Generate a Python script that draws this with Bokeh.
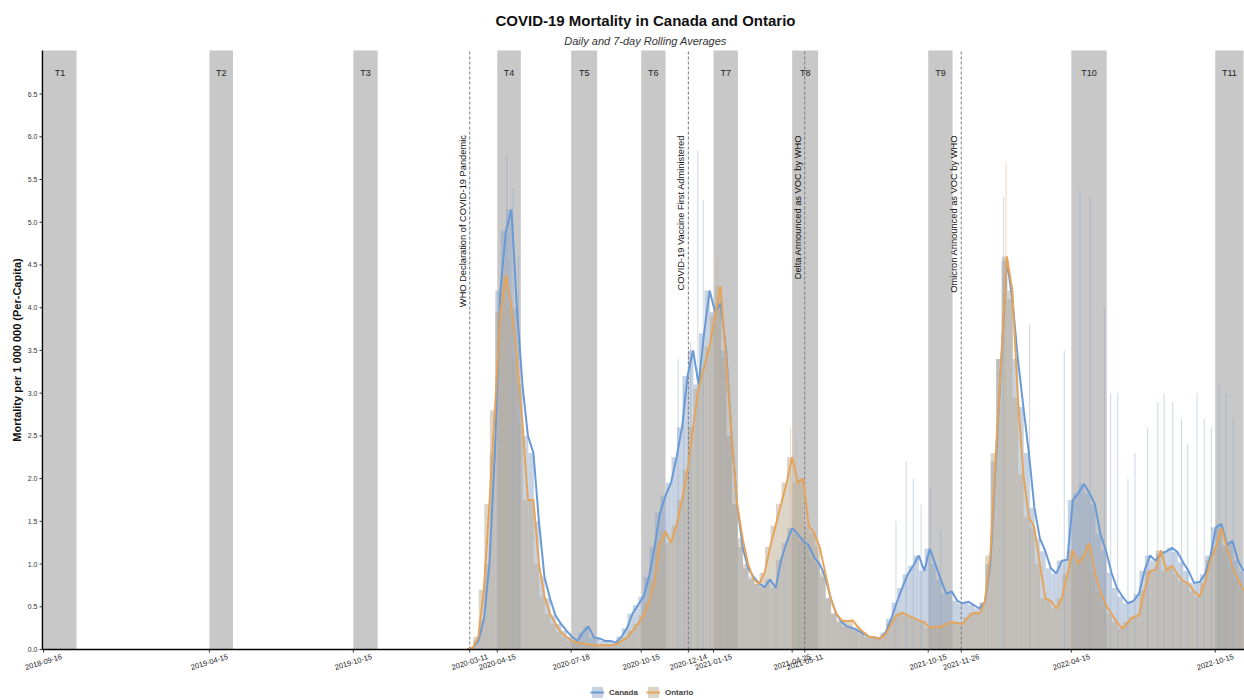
import math
import pandas as pd
from bokeh.plotting import figure
from bokeh.models import ColumnDataSource, Range1d, Legend, LegendItem
from bokeh.embed import file_html
from bokeh.resources import INLINE
from bokeh.core.properties import value

# ---------------- data ----------------
week_start = "2020-03-08"
n_weeks = 142

canada_avg = [
    0.0, 0.02, 0.1, 0.35, 1.0, 2.3, 4.2, 4.9, 5.15, 4.0,
    3.1, 2.5, 2.3, 1.5, 0.85, 0.6, 0.4, 0.3, 0.22, 0.15,
    0.1, 0.2, 0.27, 0.14, 0.13, 0.1, 0.1, 0.08, 0.15, 0.25,
    0.42, 0.52, 0.62, 0.85, 1.2, 1.6, 1.8, 1.95, 2.25, 2.6,
    3.2, 3.5, 3.1, 3.7, 4.2, 3.95, 4.05, 3.5, 2.5, 1.7,
    1.2, 0.95, 0.85, 0.77, 0.73, 0.82, 0.72, 1.05, 1.25, 1.42,
    1.35, 1.27, 1.22, 1.08, 1.0, 0.85, 0.6, 0.42, 0.32, 0.27,
    0.25, 0.22, 0.18, 0.15, 0.14, 0.13, 0.2, 0.36, 0.55, 0.72,
    0.88, 0.98, 1.1, 0.92, 1.18, 1.0, 0.82, 0.65, 0.68, 0.57,
    0.54, 0.56, 0.52, 0.48, 0.55, 1.0, 2.2, 3.4, 4.55, 4.1,
    3.4, 2.84, 2.3, 1.66, 1.3, 1.15, 0.95, 0.89, 1.04, 1.05,
    1.75, 1.83, 1.94, 1.83, 1.7, 1.35, 1.16, 0.9, 0.72, 0.62,
    0.54, 0.57, 0.65, 0.92, 1.1, 1.04, 1.12, 1.15, 1.19, 1.14,
    1.02, 0.92, 0.78, 0.79, 0.88, 1.1, 1.43, 1.47, 1.22, 1.27,
    1.04, 0.92,
]
ontario_avg = [
    0.0, 0.02, 0.15, 0.7, 1.7, 2.8, 3.95, 4.38, 4.0, 3.4,
    2.65, 1.75, 1.75, 1.0, 0.62, 0.42, 0.3, 0.2, 0.15, 0.1,
    0.08, 0.07, 0.06, 0.05, 0.05, 0.05, 0.05, 0.06, 0.1, 0.14,
    0.22, 0.3, 0.4, 0.55, 0.8, 1.25, 1.38, 1.25, 1.45, 1.75,
    2.1, 2.6, 3.05, 3.3, 3.55, 3.9, 4.25, 3.4, 2.5, 1.7,
    1.3, 1.0, 0.82, 0.77, 0.9, 1.2, 1.45, 1.7, 1.95, 2.25,
    1.95, 2.0, 1.45, 1.36, 1.2, 0.9, 0.6, 0.42, 0.34, 0.33,
    0.34, 0.26, 0.2, 0.15, 0.14, 0.13, 0.18, 0.3, 0.4, 0.43,
    0.4, 0.37, 0.34, 0.32, 0.25, 0.27, 0.26, 0.3, 0.32, 0.31,
    0.3, 0.38, 0.43, 0.42, 0.55, 1.1, 2.3, 3.4, 4.6, 4.2,
    2.95, 2.05, 1.55, 1.43, 1.0, 0.6, 0.57, 0.48, 0.6, 0.88,
    1.16, 1.0, 1.1, 1.24, 0.9, 0.68, 0.52, 0.42, 0.32, 0.24,
    0.32, 0.38, 0.4, 0.69, 0.92, 0.93, 1.16, 0.92, 0.98, 0.88,
    0.8, 0.77, 0.68, 0.62, 0.78, 1.05, 1.2, 1.42, 1.2, 0.95,
    0.82, 0.69,
]

canada_spike_dates = ["2020-04-27", "2020-05-05", "2020-05-12", "2020-12-01", "2020-12-08",
                      "2020-12-17", "2020-12-26", "2021-01-02", "2021-09-04", "2021-09-17",
                      "2021-09-26", "2021-10-06", "2021-10-18", "2021-10-31", "2022-01-19",
                      "2022-02-21", "2022-04-06", "2022-04-26", "2022-05-09", "2022-05-27",
                      "2022-06-04", "2022-06-13", "2022-06-26", "2022-07-05", "2022-07-21",
                      "2022-08-03", "2022-08-11", "2022-08-22", "2022-09-02", "2022-09-10",
                      "2022-09-22", "2022-10-01", "2022-10-10", "2022-10-20", "2022-10-29",
                      "2022-11-07"]
canada_spike_vals = [5.78, 5.4, 4.6, 3.4, 3.1, 3.6, 5.84, 5.26, 1.5, 2.2,
                     2.0, 1.7, 1.9, 1.4, 5.3, 3.8, 3.5, 5.4, 5.3, 4.0,
                     3.0, 3.0, 2.0, 2.3, 2.6, 2.9, 3.0, 2.9, 2.7, 2.4,
                     3.0, 2.7, 2.6, 3.1, 3.0, 2.7]
ontario_spike_dates = ["2020-04-26", "2021-01-20", "2021-04-23", "2021-04-30", "2022-01-22"]
ontario_spike_vals = [4.6, 4.6, 2.6, 2.5, 5.7]

band_labels = ["T1", "T2", "T3", "T4", "T5", "T6", "T7", "T8", "T9", "T10", "T11"]
band_starts = ["2018-09-16", "2019-04-15", "2019-10-15", "2020-04-15", "2020-07-18", "2020-10-15",
               "2021-01-15", "2021-04-25", "2021-10-15", "2022-04-15", "2022-10-15"]
band_ends = ["2018-10-28", "2019-05-15", "2019-11-15", "2020-05-15", "2020-08-20", "2020-11-15",
             "2021-02-15", "2021-05-28", "2021-11-15", "2022-05-30", "2022-11-20"]

event_dates = ["2020-03-11", "2020-12-14", "2021-05-11", "2021-11-26"]
event_labels = ["WHO Declaration of COVID-19 Pandemic", "COVID-19 Vaccine First Administered",
                "Delta Announced as VOC by WHO", "Omicron Announced as VOC by WHO"]

tick_dates = ["2018-09-16", "2019-04-15", "2019-10-15", "2020-03-11", "2020-04-15", "2020-07-18",
              "2020-10-15", "2020-12-14", "2021-01-15", "2021-04-25", "2021-05-11", "2021-10-15",
              "2021-11-26", "2022-04-15", "2022-10-15"]
y_ticks = [0.0, 0.5, 1.0, 1.5, 2.0, 2.5, 3.0, 3.5, 4.0, 4.5, 5.0, 5.5, 6.0, 6.5]

title_text = "COVID-19 Mortality in Canada and Ontario"
subtitle_text = "Daily and 7-day Rolling Averages"
y_label_text = "Mortality per 1 000 000 (Per-Capita)"

# ---------------- layout & styling ----------------
FONT = "Liberation Sans"
CAN_LINE = "#6a9ad6"
ONT_LINE = "#e6a45a"
CAN_BAR = "#8fa8c6"
ONT_BAR = "#bba992"
BAND = "#c8c8c8"
DAY_MS = 86400000

W, H = 1244, 700
PANEL_LEFT, PANEL_TOP, PANEL_BOTTOM = 42, 50, 649      # plotting panel in page pixels
X_START = pd.Timestamp("2018-09-14 17:00")              # value at the panel's left edge
X_END = pd.Timestamp("2022-11-21 05:00")                # value at the right edge
DPX = (X_END - X_START) / (W - PANEL_LEFT)              # time per pixel
Y_TOP = 7.01
PX = Y_TOP / (PANEL_BOTTOM - PANEL_TOP)                 # data units per pixel
R0 = X_START - PANEL_LEFT * DPX


def yv(page_y):
    return (PANEL_BOTTOM - page_y) * PX


def xv(page_x):
    return R0 + page_x * DPX


weeks = pd.date_range(week_start, periods=n_weeks, freq="7D")
bar_x = weeks - pd.Timedelta(days=3)

p = figure(width=W, height=H, output_backend="svg", toolbar_location=None, title=None,
           x_axis_type="datetime", x_axis_location=None, y_axis_location=None,
           x_range=Range1d(R0, X_END), y_range=Range1d(yv(H), yv(0)),
           min_border=0)
p.background_fill_color = "white"
p.border_fill_color = "white"
p.outline_line_color = None
p.grid.grid_line_color = None

# bands
bs = pd.to_datetime(band_starts)
be = pd.to_datetime(band_ends)
band_src = ColumnDataSource(dict(left=bs, right=be, mid=bs + (be - bs) / 2, label=band_labels))
p.quad(left="left", right="right", bottom=0, top=Y_TOP, source=band_src,
       fill_color=BAND, line_color=None)

# daily bars (weekly level) and reporting spikes
c_bars = p.vbar(x=bar_x, top=canada_avg, width=7 * DAY_MS, fill_color=CAN_BAR,
                fill_alpha=0.5, line_color=None)
o_bars = p.vbar(x=bar_x, top=ontario_avg, width=7 * DAY_MS, fill_color=ONT_BAR,
                fill_alpha=0.5, line_color=None)
p.vbar(x=pd.to_datetime(canada_spike_dates), top=canada_spike_vals, width=1.3 * DAY_MS,
       fill_color=CAN_BAR, fill_alpha=0.45, line_color=None)
p.vbar(x=pd.to_datetime(ontario_spike_dates), top=ontario_spike_vals, width=1.3 * DAY_MS,
       fill_color="#d8b48c", fill_alpha=0.5, line_color=None)

# band labels
p.text(x="mid", y=6.75, text="label", source=band_src, text_align="center",
       text_baseline="middle", text_font=value(FONT), text_font_size="9px", text_color="#222222")

# event lines and labels
ev = pd.to_datetime(event_dates)
p.segment(x0=ev, y0=0, x1=ev, y1=Y_TOP, line_color="#777777", line_width=1, line_dash="3 2")
p.text(x=ev, y=6.02, text=event_labels, angle=math.pi / 2,
       text_align="right", text_baseline="bottom", x_offset=-2,
       text_font=value(FONT), text_font_size="9.3px", text_color="#111111")

# rolling average lines
c_line = p.line(weeks, canada_avg, line_color=CAN_LINE, line_width=2)
o_line = p.line(weeks, ontario_avg, line_color=ONT_LINE, line_width=2)

# x axis: line, ticks, slanted date labels
td = pd.to_datetime(tick_dates)
p.segment(x0=[X_START], y0=[0], x1=[X_END], y1=[0], line_color="black", line_width=1.5)
p.segment(x0=td, y0=0, x1=td, y1=-3 * PX, line_color="#333333", line_width=1)
p.text(x=td, y=-12.5 * PX, text=tick_dates, angle=0.3, text_align="center",
       text_baseline="middle", text_font=value(FONT), text_font_size="7.5px",
       text_color="#222222")

# y axis: line, ticks, labels, title
p.segment(x0=[X_START], y0=[0], x1=[X_START], y1=[Y_TOP], line_color="black", line_width=1.5)
p.segment(x0=[X_START - 3 * DPX] * len(y_ticks), y0=y_ticks,
          x1=[X_START] * len(y_ticks), y1=y_ticks, line_color="#333333", line_width=1)
p.text(x=[X_START - 5 * DPX] * len(y_ticks), y=y_ticks, text=["%.1f" % t for t in y_ticks],
       text_align="right", text_baseline="middle", text_font=value(FONT),
       text_font_size="7px", text_color="#333333")
p.text(x=[xv(17)], y=[Y_TOP / 2], text=[y_label_text], angle=math.pi / 2,
       text_align="center", text_baseline="middle", text_font=value(FONT),
       text_font_size="11px", text_font_style="bold", text_color="#111111")

# titles
p.text(x=[xv(645)], y=[yv(20)], text=[title_text], text_align="center", text_baseline="middle",
       text_font=value(FONT), text_font_size="15px", text_font_style="bold", text_color="#111111")
p.text(x=[xv(645)], y=[yv(40)], text=[subtitle_text], text_align="center",
       text_baseline="middle", text_font=value(FONT), text_font_size="11px",
       text_font_style="italic", text_color="#333333")

legend = Legend(items=[LegendItem(label="Canada", renderers=[c_bars, c_line]),
                       LegendItem(label="Ontario", renderers=[o_bars, o_line])],
                orientation="horizontal", location=(590, 1))
legend.label_text_font = FONT
legend.label_text_font_size = "8px"
legend.label_text_font_style = "bold"
legend.border_line_color = None
legend.background_fill_alpha = 0
legend.glyph_width = 14
legend.glyph_height = 14
legend.spacing = 8
legend.padding = 2
legend.margin = 0
p.add_layout(legend)

open("out.html", "w").write(file_html(p, INLINE))
